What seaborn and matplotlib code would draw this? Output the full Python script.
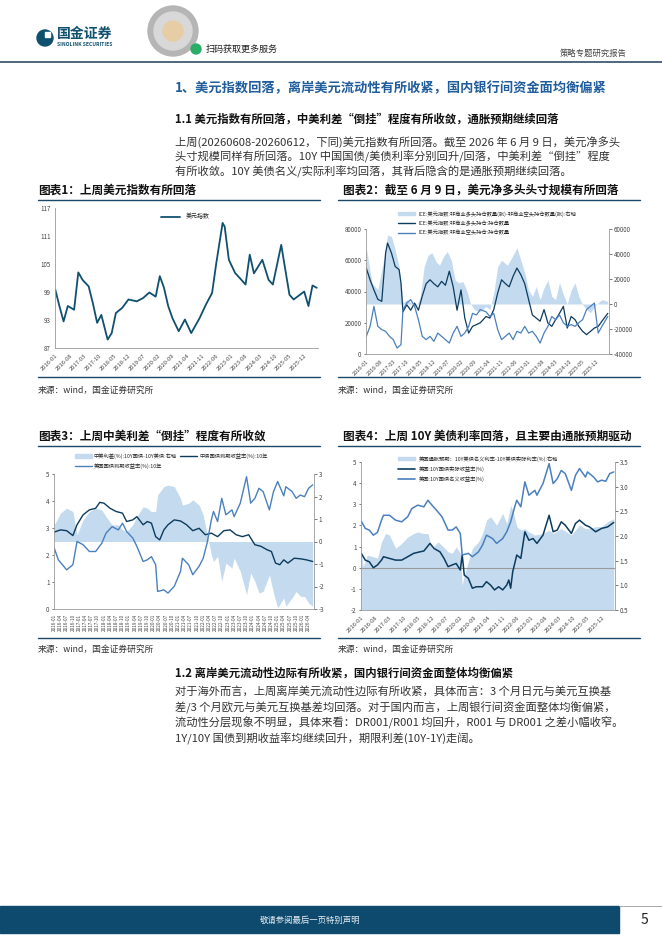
import pandas as pd
import matplotlib
matplotlib.use('Agg')
import matplotlib.pyplot as plt
from matplotlib.patches import Patch, Rectangle, Ellipse
from matplotlib.lines import Line2D
import seaborn as sns

# ---------------- data ----------------
# chart 1: dollar index
dxy_dates = ['2016-01', '2016-03', '2016-05', '2016-07', '2016-10', '2016-12', '2017-02', '2017-05',
             '2017-07', '2017-09', '2017-11', '2018-02', '2018-04', '2018-06', '2018-09', '2018-12',
             '2019-04', '2019-07', '2019-10', '2020-01', '2020-03', '2020-05', '2020-07', '2020-09',
             '2020-12', '2021-03', '2021-06', '2021-10', '2022-01', '2022-04', '2022-06', '2022-09',
             '2022-10', '2022-12', '2023-03', '2023-06', '2023-08', '2023-10', '2023-12', '2024-04',
             '2024-07', '2024-09', '2025-01', '2025-03', '2025-05', '2025-07', '2025-12', '2026-02',
             '2026-04', '2026-06']
dxy_values = [99.5, 96, 92.7, 96, 95.2, 103.2, 101.6, 100.2, 96.6, 92.4, 94.1, 88.8, 90.2, 94.5,
              95.6, 97.4, 97, 97.7, 98.9, 98, 102.4, 99.9, 96, 93.4, 90.6, 93.1, 90.2, 93.4, 96.3,
              98.8, 105.2, 113.8, 113, 105.9, 103.1, 101.6, 100.6, 107, 103, 105.9, 101.6, 100.6,
              109.1, 103.8, 98.4, 97.4, 99.1, 96, 100.4, 99.9]

# chart 2: ICE dollar index positions (thousand contracts)
net_dates = ['2016-01', '2016-04', '2016-07', '2016-10', '2016-12', '2017-02', '2017-04', '2017-06',
             '2017-08', '2017-10', '2018-01', '2018-03', '2018-05', '2018-07', '2018-09', '2018-11',
             '2019-01', '2019-03', '2019-05', '2019-07', '2019-09', '2019-11', '2020-01', '2020-03',
             '2020-05', '2020-07', '2020-09', '2020-12', '2021-03', '2021-05', '2021-07', '2021-09',
             '2021-11', '2022-02', '2022-05', '2022-07', '2022-09', '2022-11', '2023-01', '2023-03',
             '2023-05', '2023-07', '2023-09', '2023-11', '2024-01', '2024-03', '2024-05', '2024-07',
             '2024-09', '2024-11', '2025-01', '2025-03', '2025-05', '2025-07', '2025-09', '2025-11',
             '2026-01', '2026-03', '2026-06']
net_values = [44.8, 16.8, 11.5, 35, 55, 54, 43, 30, 1, 3.5, 0, -2, 6, 30, 39, 41, 34, 31, 38, 42,
              35, 19, 17, 18, 11, 0, -4.5, -6, -2, -4.5, 9, 30, 35, 31, 39, 45, 35, 25, 11, 6, 14,
              3.5, 13, 19, 6, 3.5, 17, 7.5, 0, 11, 17, 6, -0.5, -4.5, -7, -2, 1, 3.5, 2]
long_dates = ['2016-01', '2016-03', '2016-05', '2016-07', '2016-09', '2016-11', '2016-12', '2017-02',
              '2017-04', '2017-06', '2017-07', '2017-08', '2017-10', '2017-12', '2018-02', '2018-04',
              '2018-06', '2018-08', '2018-10', '2018-12', '2019-02', '2019-04', '2019-06', '2019-08',
              '2019-10', '2019-12', '2020-02', '2020-04', '2020-06', '2020-08', '2020-10', '2020-12',
              '2021-03', '2021-05', '2021-07', '2021-09', '2021-11', '2022-01', '2022-03', '2022-05',
              '2022-07', '2022-09', '2022-11', '2023-01', '2023-03', '2023-05', '2023-07', '2023-09',
              '2023-11', '2024-01', '2024-03', '2024-05', '2024-07', '2024-09', '2024-11', '2025-01',
              '2025-03', '2025-05', '2025-07', '2025-09', '2025-11', '2026-01', '2026-03', '2026-06']
long_values = [55, 47.5, 41, 35, 33.7, 64.6, 71, 64.6, 56, 54, 45.4, 27, 31.5, 28, 32.6, 28, 37,
               45, 47.5, 45, 43, 46.5, 44, 53, 43, 28, 41, 23, 13.4, 17.7, 18.8, 20, 24, 23, 28.4,
               39, 47.5, 45, 43, 49.7, 55, 50.7, 45, 34.8, 25, 23, 21, 28.4, 19.8, 17.7, 22, 26,
               30.5, 16.6, 24, 22, 17.7, 14.5, 12.4, 14.5, 16.6, 17.7, 21, 26]
short_dates = ['2016-01', '2016-03', '2016-05', '2016-07', '2016-09', '2016-11', '2017-01', '2017-03',
               '2017-05', '2017-07', '2017-08', '2017-10', '2017-12', '2018-02', '2018-04', '2018-06',
               '2018-08', '2018-10', '2018-12', '2019-02', '2019-04', '2019-06', '2019-08', '2019-10',
               '2019-12', '2020-02', '2020-04', '2020-06', '2020-08', '2020-10', '2020-12', '2021-03',
               '2021-05', '2021-07', '2021-09', '2021-11', '2022-01', '2022-03', '2022-05', '2022-07',
               '2022-09', '2022-11', '2023-01', '2023-03', '2023-05', '2023-07', '2023-09', '2023-11',
               '2024-01', '2024-03', '2024-05', '2024-07', '2024-09', '2024-11', '2025-01', '2025-03',
               '2025-05', '2025-07', '2025-09', '2025-11', '2026-01', '2026-03', '2026-06']
short_values = [11.3, 17.7, 30.5, 17.7, 15.6, 14.5, 11.3, 9.2, 3.8, 6, 28.4, 32.6, 34.8, 30.5, 22,
                11.3, 9.2, 11.3, 8.1, 13.4, 11.3, 9.2, 7, 13.4, 17.7, 11.3, 13.4, 17.7, 26, 25,
                28.4, 27, 24, 26, 15.6, 9.2, 11.3, 13.4, 9.2, 14.5, 13.4, 17.7, 13.4, 14.5, 11.3,
                7, 13.4, 17.7, 24, 22, 25, 20, 17.7, 18.8, 17.7, 20, 22, 28.4, 30.5, 32.6, 13.4,
                17.7, 24]

# chart 3: China / US 10Y yields and spread
cn_dates = ['2016-01', '2016-04', '2016-07', '2016-10', '2016-12', '2017-03', '2017-06', '2017-09',
            '2017-11', '2018-01', '2018-04', '2018-07', '2018-10', '2018-12', '2019-03', '2019-05',
            '2019-08', '2019-10', '2019-12', '2020-02', '2020-04', '2020-06', '2020-08', '2020-11',
            '2021-02', '2021-05', '2021-08', '2021-11', '2022-02', '2022-05', '2022-08', '2022-11',
            '2023-02', '2023-05', '2023-08', '2023-11', '2024-02', '2024-05', '2024-08', '2024-10',
            '2024-12', '2025-02', '2025-04', '2025-06', '2025-09', '2025-12', '2026-03', '2026-06']
cn_values = [2.85, 2.93, 2.9, 2.72, 3.12, 3.49, 3.67, 3.73, 3.95, 3.92, 3.73, 3.61, 3.55, 3.24, 3.3,
             3.42, 3.12, 3.24, 3.18, 2.68, 2.56, 2.93, 3.12, 3.3, 3.26, 3.12, 2.9, 2.99, 2.75, 2.81,
             2.68, 2.9, 2.93, 2.75, 2.68, 2.75, 2.38, 2.32, 2.19, 2.13, 1.7, 1.64, 1.82, 1.7, 1.88,
             1.86, 1.82, 1.76]
us_dates = ['2016-01', '2016-03', '2016-07', '2016-10', '2016-12', '2017-03', '2017-06', '2017-09',
            '2017-12', '2018-02', '2018-05', '2018-08', '2018-10', '2018-12', '2019-03', '2019-05',
            '2019-08', '2019-10', '2019-12', '2020-02', '2020-03', '2020-06', '2020-08', '2020-11',
            '2021-02', '2021-03', '2021-06', '2021-08', '2021-11', '2022-01', '2022-03', '2022-05',
            '2022-06', '2022-08', '2022-10', '2022-12', '2023-03', '2023-04', '2023-07', '2023-10',
            '2023-12', '2024-02', '2024-04', '2024-06', '2024-09', '2024-11', '2025-01', '2025-04',
            '2025-05', '2025-08', '2025-10', '2025-12', '2026-02', '2026-04', '2026-06']
us_values = [2.25, 1.82, 1.45, 1.64, 2.5, 2.38, 2.13, 2.13, 2.44, 2.81, 3.05, 2.93, 3.18, 2.87, 2.63,
             2.32, 1.76, 1.82, 1.94, 1.64, 0.65, 0.71, 0.59, 0.84, 1.39, 1.88, 1.64, 1.27, 1.58,
             1.88, 2.46, 3.3, 3.61, 3.24, 4.1, 3.49, 3.67, 3.42, 3.92, 4.9, 3.92, 4.1, 4.47, 4.35,
             3.67, 4.35, 4.72, 4.19, 4.53, 4.35, 4.1, 4.22, 4.16, 4.47, 4.6]
spread_dates = ['2016-01', '2016-04', '2016-07', '2016-10', '2016-12', '2017-03', '2017-06', '2017-09',
                '2017-12', '2018-02', '2018-05', '2018-08', '2018-10', '2018-12', '2019-03', '2019-05',
                '2019-08', '2019-10', '2019-12', '2020-02', '2020-03', '2020-06', '2020-08', '2020-11',
                '2021-02', '2021-03', '2021-06', '2021-08', '2021-11', '2022-01', '2022-03', '2022-05',
                '2022-06', '2022-08', '2022-10', '2022-12', '2023-03', '2023-04', '2023-07', '2023-10',
                '2023-12', '2024-02', '2024-04', '2024-06', '2024-09', '2024-11', '2025-01', '2025-04',
                '2025-05', '2025-08', '2025-10', '2025-12', '2026-02', '2026-04', '2026-06']
spread_values = [0.74, 1.26, 1.48, 1.33, 0.3, 0.96, 1.33, 1.48, 1.4, 1.1, 0.74, 0.74, 0.52, 0.44,
                 0.74, 1.1, 1.55, 1.48, 1.33, 1.33, 2.07, 2.44, 2.51, 2.44, 1.92, 1.62, 1.7, 1.85,
                 1.62, 1.18, 0.3, -0.59, -0.89, -0.66, -1.77, -0.96, -1.18, -0.74, -1.33, -2.36,
                 -1.4, -1.77, -2.29, -2.22, -1.48, -2.29, -2.95, -2.51, -2.88, -2.51, -2.22, -2.44,
                 -2.44, -2.73, -2.88]

# chart 4: US 10Y real / nominal yield and breakeven
real_dates = ['2016-01', '2016-03', '2016-05', '2016-07', '2016-09', '2016-11', '2016-12', '2017-03',
              '2017-06', '2017-09', '2017-12', '2018-03', '2018-06', '2018-08', '2018-11', '2019-01',
              '2019-04', '2019-06', '2019-08', '2019-10', '2019-12', '2020-02', '2020-03', '2020-04',
              '2020-06', '2020-08', '2020-10', '2021-01', '2021-03', '2021-05', '2021-07', '2021-09',
              '2021-11', '2022-01', '2022-02', '2022-03', '2022-04', '2022-06', '2022-08', '2022-10',
              '2022-12', '2023-02', '2023-04', '2023-07', '2023-10', '2023-12', '2024-02', '2024-04',
              '2024-06', '2024-09', '2024-11', '2025-01', '2025-04', '2025-06', '2025-09', '2025-12',
              '2026-03', '2026-06']
real_values = [0.68, 0.36, 0.28, 0.0, 0.13, 0.36, 0.52, 0.44, 0.36, 0.36, 0.52, 0.68, 0.75, 0.79,
               1.15, 0.91, 0.75, 0.44, 0.05, 0.13, 0.2, -0.11, 0.6, -0.35, -0.5, -0.97, -0.9, -0.9,
               -0.66, -0.82, -1.05, -0.9, -1.05, -0.82, -0.58, -0.97, -0.19, 0.6, 0.44, 1.7, 1.3,
               1.38, 1.15, 1.54, 2.48, 1.7, 1.78, 2.17, 2.01, 1.62, 2.09, 2.25, 2.01, 1.93, 1.7,
               1.86, 1.93, 2.14]
nom_dates = ['2016-01', '2016-03', '2016-05', '2016-07', '2016-09', '2016-11', '2016-12', '2017-03',
             '2017-06', '2017-09', '2017-12', '2018-02', '2018-05', '2018-08', '2018-10', '2018-12',
             '2019-03', '2019-05', '2019-08', '2019-10', '2019-12', '2020-02', '2020-03', '2020-06',
             '2020-08', '2020-11', '2021-01', '2021-03', '2021-06', '2021-08', '2021-11', '2022-01',
             '2022-03', '2022-05', '2022-06', '2022-08', '2022-10', '2022-12', '2023-03', '2023-04',
             '2023-07', '2023-10', '2023-12', '2024-02', '2024-04', '2024-06', '2024-09', '2024-11',
             '2025-01', '2025-04', '2025-05', '2025-08', '2025-10', '2025-12', '2026-02', '2026-04',
             '2026-06']
nom_values = [2.2, 1.86, 1.78, 1.54, 1.67, 2.25, 2.48, 2.48, 2.25, 2.17, 2.41, 2.8, 2.96, 2.88, 3.19,
              2.96, 2.64, 2.41, 1.78, 1.78, 1.93, 1.62, 0.6, 0.68, 0.52, 0.75, 1.07, 1.54, 1.38,
              1.15, 1.38, 1.7, 2.17, 2.88, 3.19, 2.88, 4.06, 3.43, 3.66, 3.43, 3.98, 4.92, 3.98,
              4.21, 4.6, 4.45, 3.66, 4.37, 4.69, 4.29, 4.53, 4.29, 4.06, 4.14, 4.09, 4.45, 4.53]
be_dates = ['2016-01', '2016-02', '2016-04', '2016-07', '2016-09', '2016-11', '2017-01', '2017-03',
            '2017-06', '2017-09', '2017-12', '2018-03', '2018-05', '2018-08', '2018-10', '2018-12',
            '2019-03', '2019-05', '2019-08', '2019-10', '2019-12', '2020-02', '2020-03', '2020-04',
            '2020-06', '2020-08', '2020-11', '2021-01', '2021-03', '2021-05', '2021-08', '2021-11',
            '2022-01', '2022-03', '2022-04', '2022-06', '2022-08', '2022-10', '2022-12', '2023-03',
            '2023-07', '2023-10', '2023-12', '2024-04', '2024-09', '2025-01', '2025-04', '2025-06',
            '2025-09', '2025-12', '2026-03', '2026-06']
be_values = [1.68, 1.38, 1.61, 1.58, 1.55, 1.88, 2.05, 2.02, 1.75, 1.85, 1.98, 2.05, 2.08, 2.05,
             2.05, 1.75, 1.88, 1.81, 1.68, 1.65, 1.78, 1.65, 1.0, 1.21, 1.48, 1.75, 1.88, 2.05,
             2.32, 2.39, 2.22, 2.46, 2.25, 2.62, 2.52, 2.19, 2.12, 2.15, 2.08, 2.02, 2.05, 2.12,
             2.05, 2.15, 2.02, 2.22, 2.15, 2.15, 2.19, 2.19, 2.29, 2.35]

# ---------------- style ----------------
sns.set_theme(style='white')
plt.rcParams['font.family'] = ['Noto Sans CJK SC', 'DejaVu Sans']
plt.rcParams['axes.unicode_minus'] = False

NAVY = '#0c3b5e'
TEAL = '#10506f'
LIGHT = '#4a80bd'
AREA = '#c4daee'
RULE = '#1c4766'
TXT = '#333333'
X0, X1 = pd.Timestamp('2015-12-28'), pd.Timestamp('2026-06-20')

W, H = 662, 936
fig = plt.figure(figsize=(W / 100, H / 100), dpi=100)


def fx(x):
    return x / W


def fy(y):
    return 1 - y / H


def add_ax(l, t, r, b):
    return fig.add_axes([fx(l), fy(b), (r - l) / W, (b - t) / H])


def hline(x0, x1, y, color=RULE, lw=1.0):
    fig.add_artist(Line2D([fx(x0), fx(x1)], [fy(y), fy(y)], color=color, lw=lw))


def dot(x, y, r, color):
    # round mark in page pixels
    fig.add_artist(Ellipse((fx(x), fy(y)), 2 * r / W, 2 * r / H, color=color,
                           transform=fig.transFigure))


def style(ax, sides):
    for s in ['top', 'right', 'left', 'bottom']:
        ax.spines[s].set_visible(s in sides)
        ax.spines[s].set_color('#9a9a9a')
        ax.spines[s].set_linewidth(0.6)
    ax.tick_params(labelsize=4.5, length=1.8, width=0.5, colors='#444444', pad=1.5)
    ax.set_xlabel('')
    ax.set_ylabel('')


def date_ticks(ax, step, rot, size):
    ticks = pd.date_range('2016-01-01', '2026-06-01', freq=f'{step}MS')
    ax.set_xticks(ticks)
    labels = [t.strftime('%Y-%m') for t in ticks]
    if rot == 90:
        ax.set_xticklabels(labels, rotation=90, fontsize=size, ha='center', va='top')
    else:
        ax.set_xticklabels(labels, rotation=45, fontsize=size, ha='right', rotation_mode='anchor')
    ax.set_xlim(X0, X1)


def d(lst):
    return pd.to_datetime(lst)


# ---------------- page header ----------------
dot(45, 38, 8, TEAL)
fig.add_artist(Rectangle((fx(45), fy(37)), 5 / W, 5 / H, color='white', transform=fig.transFigure))
fig.text(fx(57), fy(34), '国金证券', fontsize=10, fontweight='bold', color=TEAL, va='center')
fig.text(fx(57), fy(45), 'SINOLINK SECURITIES', fontsize=3.6, fontweight='bold', color=TEAL, va='center')
dot(173, 31, 25, '#b5b5b5')
dot(173, 31, 19, '#d8d8d8')
dot(173, 31, 10, '#e6cda6')
dot(196, 49, 5, '#2aae67')
fig.text(fx(206), fy(49), '扫码获取更多服务', fontsize=6.5, color='#222222', va='center')
fig.text(fx(627), fy(53), '策略专题研究报告', fontsize=6, color='#444444', va='center', ha='right')
hline(0, 662, 62, color='#2f4f6a', lw=1.2)

# ---------------- section text ----------------
fig.text(fx(175), fy(88), '1、美元指数回落，离岸美元流动性有所收紧，国内银行间资金面均衡偏紧',
         fontsize=9.5, fontweight='bold', color='#1f5d9c', va='center')
fig.text(fx(175), fy(119), '1.1 美元指数有所回落，中美利差“倒挂”程度有所收敛，通胀预期继续回落',
         fontsize=8.2, fontweight='bold', color='#111111', va='center')
para1 = ['上周(20260608-20260612，下同)美元指数有所回落。截至 2026 年 6 月 9 日，美元净多头',
         '头寸规模同样有所回落。10Y 中国国债/美债利率分别回升/回落，中美利差“倒挂”程度',
         '有所收敛。10Y 美债名义/实际利率均回落，其背后隐含的是通胀预期继续回落。']
for i, line in enumerate(para1):
    fig.text(fx(175), fy(142 + 15 * i), line, fontsize=8.1, color=TXT, va='center')

fig.text(fx(175), fy(673), '1.2 离岸美元流动性边际有所收紧，国内银行间资金面整体均衡偏紧',
         fontsize=8.2, fontweight='bold', color='#111111', va='center')
para2 = ['对于海外而言，上周离岸美元流动性边际有所收紧，具体而言：3 个月日元与美元互换基',
         '差/3 个月欧元与美元互换基差均回落。对于国内而言，上周银行间资金面整体均衡偏紧，',
         '流动性分层现象不明显，具体来看：DR001/R001 均回升，R001 与 DR001 之差小幅收窄。',
         '1Y/10Y 国债到期收益率均继续回升，期限利差(10Y-1Y)走阔。']
for i, line in enumerate(para2):
    fig.text(fx(175), fy(692 + 15.5 * i), line, fontsize=8.1, color=TXT, va='center')

# ---------------- panel frames ----------------
titles = [(38, 190, '图表1：上周美元指数有所回落'),
          (343, 190, '图表2：截至 6 月 9 日，美元净多头头寸规模有所回落'),
          (38, 436, '图表3：上周中美利差“倒挂”程度有所收敛'),
          (343, 436, '图表4：上周 10Y 美债利率回落，且主要由通胀预期驱动')]
for x, y, t in titles:
    fig.text(fx(x), fy(y), t, fontsize=8.4, fontweight='bold', color='#111111', va='center')
for x0, x1 in [(38, 320), (338, 640)]:
    hline(x0, x1, 200)
    hline(x0, x1, 377)
    hline(x0, x1, 446)
    hline(x0, x1, 638)
    fig.text(fx(x0), fy(390), '来源：wind，国金证券研究所', fontsize=6.3, color=TXT, va='center')
    fig.text(fx(x0), fy(649), '来源：wind，国金证券研究所', fontsize=6.3, color=TXT, va='center')

# ---------------- chart 1 ----------------
ax1 = add_ax(55, 208, 318, 348)
sns.lineplot(x=d(dxy_dates), y=dxy_values, ax=ax1, color=TEAL, linewidth=1.3)
style(ax1, ['left', 'bottom'])
ax1.set_ylim(87, 117)
ax1.set_yticks([87, 93, 99, 105, 111, 117])
date_ticks(ax1, 7, 45, 4.2)
ax1.legend([Line2D([], [], color=TEAL, lw=1.3)], ['美元指数'], loc='upper left', frameon=False,
           fontsize=4.3, handlelength=3.2, bbox_to_anchor=(fx(156), fy(208)),
           bbox_transform=fig.transFigure)

# ---------------- chart 2 ----------------
ax2 = add_ax(366, 229, 609, 354)
ax2r = ax2.twinx()
ax2r.fill_between(d(net_dates), [v * 1000 for v in net_values], 0, color=AREA, lw=0)
sns.lineplot(x=d(long_dates), y=[v * 1000 for v in long_values], ax=ax2, color=NAVY, linewidth=0.9)
sns.lineplot(x=d(short_dates), y=[v * 1000 for v in short_values], ax=ax2, color=LIGHT, linewidth=0.9)
ax2.set_zorder(ax2r.get_zorder() + 1)
ax2.patch.set_visible(False)
style(ax2, ['left', 'bottom'])
style(ax2r, ['right'])
ax2.set_ylim(0, 80000)
ax2.set_yticks(range(0, 80001, 20000))
ax2r.set_ylim(-40000, 60000)
ax2r.set_yticks(range(-40000, 60001, 20000))
date_ticks(ax2, 7, 45, 4.0)
ax2.legend([Patch(color=AREA), Line2D([], [], color=NAVY, lw=1), Line2D([], [], color=LIGHT, lw=1)],
           ['ICE:美元指数:非商业多头持仓数量(张)-非商业空头持仓数量(张):右轴',
            'ICE:美元指数:非商业多头持仓:持仓数量',
            'ICE:美元指数:非商业空头持仓:持仓数量'],
           loc='upper left', frameon=False, fontsize=3.8, handlelength=3.2, labelspacing=0.75,
           bbox_to_anchor=(fx(393), fy(206)), bbox_transform=fig.transFigure)

# ---------------- chart 3 ----------------
ax3 = add_ax(54, 474, 314, 609)
ax3r = ax3.twinx()
ax3r.fill_between(d(spread_dates), spread_values, 0, color=AREA, lw=0)
sns.lineplot(x=d(cn_dates), y=cn_values, ax=ax3, color=NAVY, linewidth=1.0)
sns.lineplot(x=d(us_dates), y=us_values, ax=ax3, color=LIGHT, linewidth=1.0)
ax3.set_zorder(ax3r.get_zorder() + 1)
ax3.patch.set_visible(False)
style(ax3, ['left', 'bottom'])
style(ax3r, ['right'])
ax3.set_ylim(0, 5)
ax3.set_yticks(range(0, 6))
ax3r.set_ylim(-3, 3)
ax3r.set_yticks(range(-3, 4))
date_ticks(ax3, 3, 90, 3.3)
ax3.legend([Patch(color=AREA), Line2D([], [], color=LIGHT, lw=1), Line2D([], [], color=NAVY, lw=1)],
           ['中美利差(%):10Y国债-10Y美债:右轴', '美国国债到期收益率(%):10年', '中债国债到期收益率(%):10年'],
           loc='upper left', frameon=False, fontsize=3.8, handlelength=3.2, labelspacing=0.9,
           ncol=2, columnspacing=0.6, handletextpad=0.4,
           bbox_to_anchor=(fx(70), fy(448)), bbox_transform=fig.transFigure)

# ---------------- chart 4 ----------------
ax4 = add_ax(361, 462, 615, 610)
ax4r = ax4.twinx()
ax4r.fill_between(d(be_dates), be_values, 0.5, color=AREA, lw=0)
ax4.axhline(0, color='#9a9a9a', lw=0.8)
sns.lineplot(x=d(real_dates), y=real_values, ax=ax4, color=NAVY, linewidth=1.1)
sns.lineplot(x=d(nom_dates), y=nom_values, ax=ax4, color=LIGHT, linewidth=1.1)
ax4.set_zorder(ax4r.get_zorder() + 1)
ax4.patch.set_visible(False)
style(ax4, ['left', 'bottom'])
style(ax4r, ['right'])
ax4.set_ylim(-2, 5)
ax4.set_yticks(range(-2, 6))
ax4r.set_ylim(0.5, 3.5)
ax4r.set_yticks([0.5, 1.0, 1.5, 2.0, 2.5, 3.0, 3.5])
ax4r.set_yticklabels(['0.5', '1.0', '1.5', '2.0', '2.5', '3.0', '3.5'])
date_ticks(ax4, 7, 45, 4.2)
ax4.legend([Patch(color=AREA), Line2D([], [], color=NAVY, lw=1.2), Line2D([], [], color=LIGHT, lw=1.2)],
           ['美国通胀预期：10Y美债名义利率-10Y美债实际利率(%):右轴',
            '美国:10Y国债实际收益率(%)',
            '美国:10Y国债名义收益率(%)'],
           loc='upper left', frameon=False, fontsize=3.8, handlelength=3.2, labelspacing=0.85,
           bbox_to_anchor=(fx(393), fy(451)), bbox_transform=fig.transFigure)

# ---------------- footer ----------------
fig.add_artist(Rectangle((0, fy(933)), fx(619), (933 - 906) / H, color='#0e4a6e',
                         transform=fig.transFigure))
hline(619, 662, 906, color='#9a9a9a', lw=0.6)
fig.text(fx(310), fy(920), '敬请参阅最后一页特别声明', fontsize=6, color='#e8eef4', va='center', ha='center')
fig.text(fx(644), fy(920), '5', fontsize=10, color='#222222', va='center', ha='center')

fig.savefig('out.png', dpi=100)
